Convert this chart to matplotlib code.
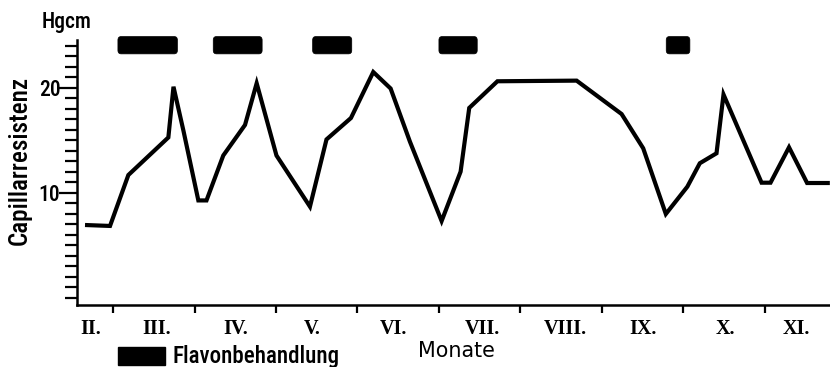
import matplotlib
matplotlib.use("Agg")
import matplotlib.pyplot as plt
from matplotlib.patches import FancyBboxPatch
from matplotlib import font_manager

# ---- data (x in month units: integer = start of month, 3 = start of March) ----
months_x = [2.656, 2.963, 3.188, 3.679, 3.742, 3.865, 4.047, 4.147, 4.353, 4.620,
            4.763, 5.006, 5.417, 5.620, 5.920, 6.194, 6.407, 6.644, 7.033, 7.266,
            7.372, 7.718, 8.690, 9.242, 9.507, 9.785, 10.049, 10.202, 10.407, 10.493,
            10.960, 11.070, 11.297, 11.519, 11.798]
resistance = [6.95, 6.86, 11.71, 15.29, 20.12, 15.9, 9.29, 9.29, 13.57, 16.48,
              20.45, 13.57, 8.70, 15.10, 17.14, 21.52, 19.95, 14.89, 7.33, 12.03,
              18.10, 20.64, 20.70, 17.52, 14.26, 8.0, 10.6, 12.83, 13.78, 19.38,
              10.98, 10.98, 14.35, 10.95, 10.95]
# flavon treatment periods (start, end) in month units
treat_start = [3.06, 4.23, 5.45, 7.00, 9.79]
treat_end = [3.79, 4.83, 5.93, 7.47, 10.08]

month_labels = ["II.", "III.", "IV.", "V.", "VI.", "VII.", "VIII.", "IX.", "X.", "XI."]
month_label_pos = [2.72, 3.54, 4.50, 5.45, 6.44, 7.53, 8.55, 9.50, 10.51, 11.39]
month_bounds = [3, 4, 5, 6, 7, 8, 9, 10, 11]

ymajor = [10, 20]
yminor = list(range(0, 25))

names = {f.name for f in font_manager.fontManager.ttflist}
fam = "DejaVu Sans"
for cand in ["Roboto Condensed", "Open Sans Condensed", "Liberation Sans Narrow",
             "DejaVu Sans Condensed", "Roboto"]:
    if cand in names:
        fam = cand
        break
cond = dict(family=[fam, "DejaVu Sans"], fontweight="medium")
serif = "Liberation Serif" if "Liberation Serif" in names else "DejaVu Serif"

fig = plt.figure(figsize=(8.30, 3.67), dpi=100)
ax = fig.add_axes([0.0928, 0.169, 0.9072, 0.722])
ax.set_xlim(2.558, 11.80)
ax.set_ylim(-0.667, 24.57)

ax.plot(months_x, resistance, color="black", lw=3.0, solid_joinstyle="miter",
        solid_capstyle="butt", clip_on=False)

# treatment bars above the curve
for s, e in zip(treat_start, treat_end):
    p = FancyBboxPatch((s, 23.25), e - s, 1.65, boxstyle="round,pad=0,rounding_size=0.04",
                       fc="black", ec="black", lw=0.5, clip_on=False,
                       mutation_aspect=1.65 / 0.2)
    ax.add_patch(p)

for side in ["top", "right"]:
    ax.spines[side].set_visible(False)
ax.spines["left"].set_linewidth(1.8)
ax.spines["bottom"].set_linewidth(1.8)

ax.set_yticks(ymajor)
ax.set_yticklabels([str(v) for v in ymajor], fontsize=15.5, **cond)
ax.set_yticks(yminor, minor=True)
ax.tick_params(axis="y", which="major", direction="out", length=13, width=1.6, pad=-1)
ax.tick_params(axis="y", which="minor", direction="out", length=9, width=1.6)

ax.set_xticks(month_bounds)
ax.set_xticklabels([])
ax.tick_params(axis="x", which="major", direction="out", length=6, width=1.6)
ax.set_xticks(month_label_pos, minor=True)
ax.set_xticklabels(month_labels, minor=True, fontsize=14.5, fontweight="bold",
                   family=serif)
ax.tick_params(axis="x", which="minor", length=0, pad=10)

fig.text(42 / 830, 1 - 22 / 367, "Hgcm", fontsize=15.5, ha="left", va="center", **cond)
t2 = fig.text(20 / 830, 1 - 160 / 367, "Capillarresistenz", fontsize=14, rotation=90,
              ha="center", va="center", **cond)
t3 = fig.text(456 / 830, 1 - 351 / 367, "Monate", fontsize=14, ha="center", va="center",
              family="DejaVu Sans")
t4 = fig.text(172 / 830, 1 - 356 / 367, "Flavonbehandlung", fontsize=14,
              ha="left", va="center", **cond)

# fit text sizes to the reference extents (pixels)
fig.canvas.draw()
r = fig.canvas.get_renderer()
for t, target, vertical in [(t2, 170, True), (t3, 77, False), (t4, 168, False)]:
    bb = t.get_window_extent(r)
    cur = bb.height if vertical else bb.width
    t.set_fontsize(t.get_fontsize() * target / cur)

# legend
leg = FancyBboxPatch((118 / 830, 1 - 365 / 367), 47 / 830, 18 / 367,
                     boxstyle="square,pad=0", fc="black", ec="black",
                     transform=fig.transFigure, clip_on=False)
fig.add_artist(leg)

fig.savefig("out.png", dpi=100, facecolor="white")
